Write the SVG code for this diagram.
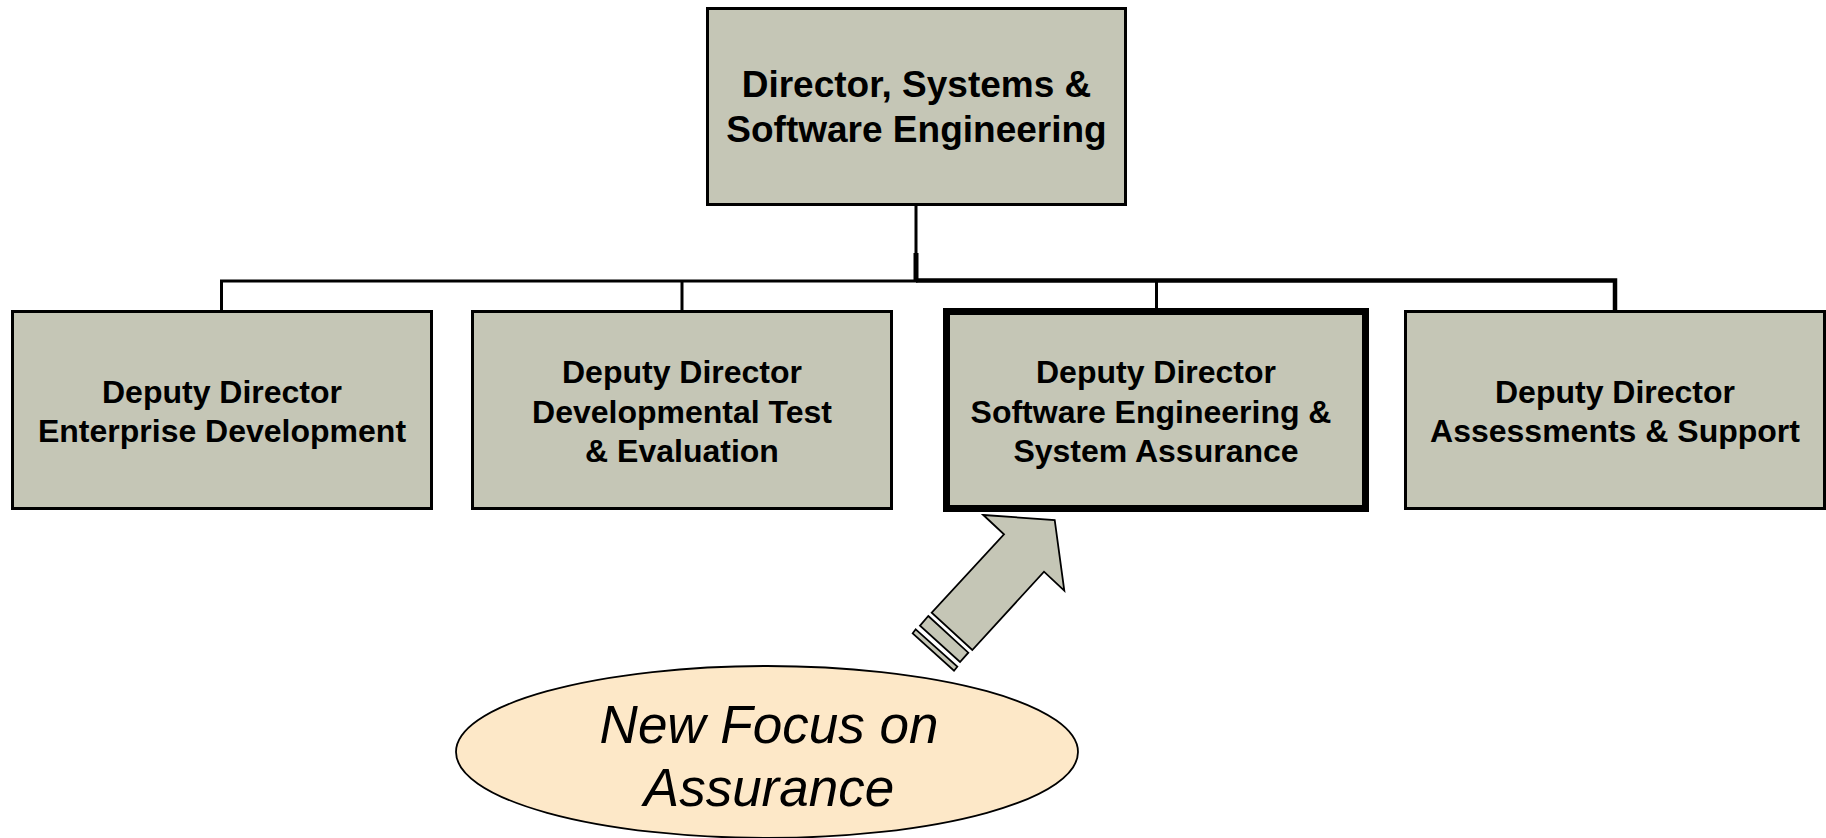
<svg xmlns="http://www.w3.org/2000/svg" width="1826" height="838" viewBox="0 0 1826 838">
<style>
.box{fill:#C5C6B6;stroke:#000;stroke-width:3}
.hl{fill:#C5C6B6;stroke:#000;stroke-width:7}
.t{font-family:"Liberation Sans",Arial,sans-serif;font-weight:bold;fill:#000;text-anchor:middle}
.c{fill:none;stroke:#000;stroke-width:3}
.it{font-family:"Liberation Sans",Arial,sans-serif;font-style:italic;font-size:53px;fill:#000;text-anchor:middle}
</style>
<rect width="1826" height="838" fill="#fff"/>
<g id="connectors">
<path class="c" d="M916 205 V281 H221.5 V311"/>
<path class="c" d="M682 281 V311"/>
<path d="M916 280.5 H1615 V311" fill="none" stroke="#000" stroke-width="4.5"/>
<path d="M1156.5 281 V309" fill="none" stroke="#000" stroke-width="3"/>
<path d="M916 253 V282" fill="none" stroke="#000" stroke-width="5"/>
</g>
<g id="director">
<rect class="box" x="707.5" y="8.5" width="418" height="196"/>
<text class="t" font-size="37" x="916.5" y="97">Director, Systems &amp;</text>
<text class="t" font-size="37" x="916.5" y="142">Software Engineering</text>
</g>
<g id="dd-enterprise">
<rect class="box" x="12.5" y="311.5" width="419" height="197"/>
<text class="t" font-size="32" x="222" y="403">Deputy Director</text>
<text class="t" font-size="32" x="222" y="442">Enterprise Development</text>
</g>
<g id="dd-dte">
<rect class="box" x="472.5" y="311.5" width="419" height="197"/>
<text class="t" font-size="32" x="682" y="383">Deputy Director</text>
<text class="t" font-size="32" x="682" y="422.5">Developmental Test</text>
<text class="t" font-size="32" x="682" y="462">&amp; Evaluation</text>
</g>
<g id="dd-sesa">
<rect class="hl" x="946.5" y="311.5" width="419" height="197"/>
<text class="t" font-size="32" x="1156" y="383">Deputy Director</text>
<text class="t" font-size="32" x="1151" y="422.5">Software Engineering &amp;</text>
<text class="t" font-size="32" x="1156" y="462">System Assurance</text>
</g>
<g id="dd-as">
<rect class="box" x="1405.5" y="311.5" width="419" height="197"/>
<text class="t" font-size="32" x="1615" y="403">Deputy Director</text>
<text class="t" font-size="32" x="1615" y="442">Assessments &amp; Support</text>
</g>
<g id="focus-arrow" fill="#C5C6B6" stroke="#000" stroke-width="1.8" stroke-linejoin="miter">
<polygon points="983.3,515 1054.7,520 1064.3,590.7 1044,571.7 972.3,650 931.7,612.7 1004,534.3"/>
<polygon points="928.3,616 968.3,652.7 960,662 920,625.7"/>
<polygon points="915.7,629.3 957.3,666.7 954,670.7 912.7,633.3"/>
</g>
<g id="new-focus">
<ellipse cx="767" cy="752" rx="311" ry="86" fill="#FDE8C8" stroke="#000" stroke-width="1.8"/>
<text class="it" x="769" y="743">New Focus on</text>
<text class="it" x="769" y="806">Assurance</text>
</g>
</svg>
